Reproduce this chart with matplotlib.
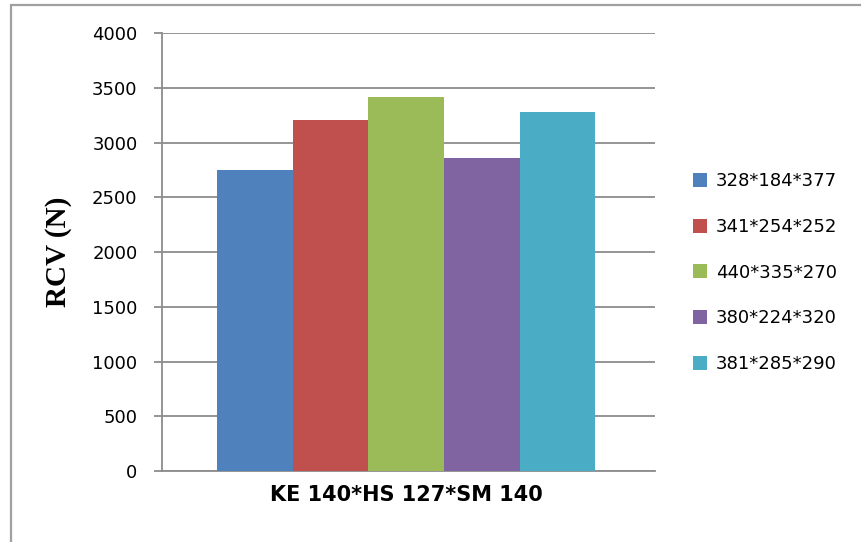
import matplotlib
matplotlib.use("Agg")
import matplotlib.pyplot as plt
from matplotlib.patches import Rectangle

# RCV for one specimen, five dimension combinations
category = "KE 140*HS 127*SM 140"
series_labels = ["328*184*377", "341*254*252", "440*335*270", "380*224*320", "381*285*290"]
rcv_values = [2750, 3210, 3420, 2860, 3280]
bar_colors = ["#4F81BD", "#C0504D", "#9BBB59", "#8064A2", "#4BACC6"]
y_ticks = [0, 500, 1000, 1500, 2000, 2500, 3000, 3500, 4000]

fig = plt.figure(figsize=(8.61, 5.42), dpi=100)
ax = fig.add_axes([0.188, 0.131, 0.573, 0.808])

n = len(rcv_values)
group = 0.767
w = group / n
shift = -0.005
for i, (v, c, lab) in enumerate(zip(rcv_values, bar_colors, series_labels)):
    x = shift - group / 2 + w * (i + 0.5)
    ax.bar(x, v, width=w, color=c, label=lab, zorder=3)

ax.set_xlim(-0.5, 0.5)
ax.set_ylim(0, 4000)
ax.set_yticks(y_ticks)
ax.grid(axis="y", color="#8c8c8c", linewidth=1.3, zorder=0)
for s in ["top", "right"]:
    ax.spines[s].set_visible(False)
for s in ["left", "bottom"]:
    ax.spines[s].set_color("#8c8c8c")
    ax.spines[s].set_linewidth(1.3)

ax.tick_params(axis="y", length=6, width=1.3, color="#8c8c8c", pad=11.5,
               labelsize=13, labelcolor="black")
ax.set_xticks([shift])
ax.set_xticklabels([category], fontsize=15, fontweight="bold")
ax.tick_params(axis="x", length=0, pad=10)

ax.set_ylabel("RCV (N)", family="Liberation Serif", fontweight="bold", fontsize=21)
ax.yaxis.set_label_coords(-0.183, 0.5)

ax.legend(loc="center left", bbox_to_anchor=(0.786, 0.497), bbox_transform=fig.transFigure,
          frameon=False, fontsize=13, handlelength=0.8, handleheight=0.8,
          handletextpad=0.45, labelspacing=1.53)

# outer chart frame
fig.add_artist(Rectangle((11 / 861, -0.1), 1.2, 1.1 - 5 / 542, transform=fig.transFigure,
                         fill=False, edgecolor="#a0a0a0", linewidth=1.6))

fig.savefig("out.png", dpi=100)
